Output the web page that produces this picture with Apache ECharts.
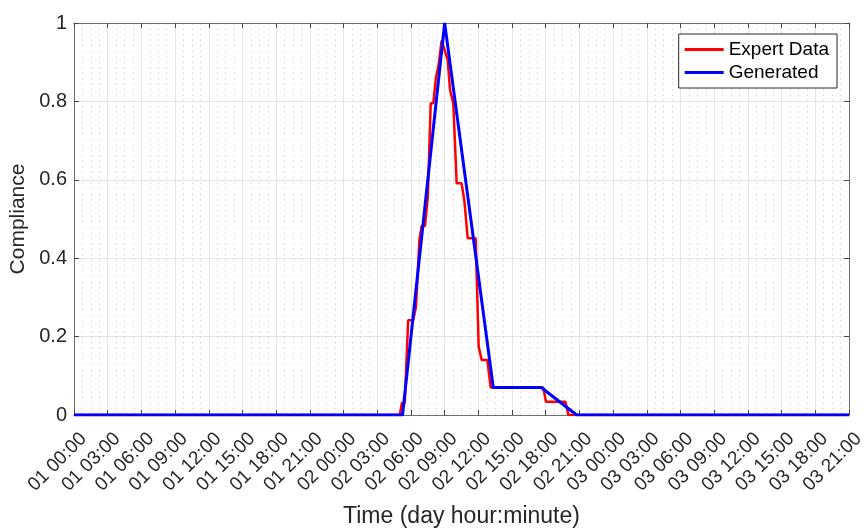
<!DOCTYPE html>
<html>
<head>
<meta charset="utf-8">
<script src="https://cdn.jsdelivr.net/npm/echarts@6/dist/echarts.min.js"></script>
<style>
  html, body { margin: 0; padding: 0; background: #fff; }
  #main { width: 865px; height: 529px; }
</style>
</head>
<body>
<div id="main"></div>
<script>
// hours since 01 00:00
var tickLabels = ['01 00:00','01 03:00','01 06:00','01 09:00','01 12:00','01 15:00','01 18:00','01 21:00',
  '02 00:00','02 03:00','02 06:00','02 09:00','02 12:00','02 15:00','02 18:00','02 21:00',
  '03 00:00','03 03:00','03 06:00','03 09:00','03 12:00','03 15:00','03 18:00','03 21:00'];

var expertTime  = [0, 29.0, 29.2, 29.45, 29.75, 30.2, 30.45, 30.75, 30.95, 31.25, 31.5, 31.76, 31.99, 32.23, 32.44, 32.73, 32.85,
  33.27, 33.48, 33.77, 34.07, 34.51, 34.75, 35.05, 35.76, 36.03, 36.3, 36.8, 37.1, 41.78, 42.02, 43.75, 44.02, 69];
var expertValue = [0, 0, 0.031, 0.031, 0.242, 0.242, 0.276, 0.446, 0.482, 0.482, 0.557, 0.795, 0.795, 0.863, 0.888, 0.955, 0.958,
  0.906, 0.829, 0.795, 0.591, 0.591, 0.548, 0.451, 0.451, 0.174, 0.14, 0.14, 0.07, 0.07, 0.034, 0.034, 0, 0];

var generatedTime  = [0, 29.25, 33.0, 37.33, 41.6, 44.75, 69];
var generatedValue = [0, 0, 1.0, 0.07, 0.07, 0, 0];

function pairs(t, v) {
  var out = [];
  for (var i = 0; i < t.length; i++) out.push([t[i], v[i]]);
  return out;
}

var font = 'Liberation Sans';
var axisCol = '#6e6e6e';
var textCol = '#262626';
var chart = echarts.init(document.getElementById('main'));
chart.setOption({
  animation: false,
  textStyle: { fontFamily: font },
  grid: { left: 74, right: 16, top: 23, bottom: 114, outerBoundsMode: 'none', containLabel: false },
  legend: {
    orient: 'vertical',
    right: 28,
    top: 34,
    backgroundColor: '#fff',
    borderColor: '#262626',
    borderWidth: 1,
    borderRadius: 0,
    padding: [6, 8, 6, 6],
    itemGap: 4,
    itemWidth: 39,
    itemHeight: 14,
    textStyle: { fontFamily: font, fontSize: 19, color: '#000' },
    data: [
      { name: 'Expert Data', icon: 'path://M0,0 L40,0 L40,3 L0,3 Z' },
      { name: 'Generated', icon: 'path://M0,0 L40,0 L40,3 L0,3 Z' }
    ]
  },
  xAxis: [{
    type: 'value',
    min: 0,
    max: 69,
    interval: 3,
    name: 'Time (day hour:minute)',
    nameLocation: 'middle',
    nameGap: 90,
    nameTextStyle: { fontSize: 23, color: textCol, fontFamily: font },
    axisLine: { show: true, onZero: false, lineStyle: { color: axisCol, width: 1 } },
    axisTick: { show: true, inside: true, length: 5, lineStyle: { color: '#444' } },
    axisLabel: {
      rotate: 45,
      fontSize: 19,
      color: textCol,
      margin: 0,
      verticalAlign: 'top',
      padding: [12, 8, 0, 0],
      formatter: function (v) { return tickLabels[Math.round(v / 3)]; }
    },
    splitLine: { show: true, lineStyle: { color: '#e4e4e4', width: 1 } },
    minorTick: { show: false, splitNumber: 4 },
    minorSplitLine: { show: true, lineStyle: { color: '#d6d6d6', width: 1, type: [1.5, 4] } }
  }, {
    type: 'value',
    position: 'top',
    min: 0,
    max: 69,
    interval: 3,
    axisLine: { show: true, onZero: false, lineStyle: { color: axisCol, width: 1 } },
    axisTick: { show: true, inside: true, length: 5, lineStyle: { color: '#444' } },
    axisLabel: { show: false },
    splitLine: { show: false }
  }],
  yAxis: [{
    type: 'value',
    min: 0,
    max: 1,
    interval: 0.2,
    name: 'Compliance',
    nameLocation: 'middle',
    nameGap: 44,
    nameTextStyle: { fontSize: 21, color: textCol, fontFamily: font },
    axisLine: { show: true, onZero: false, lineStyle: { color: axisCol, width: 1 } },
    axisTick: { show: true, inside: true, length: 5, lineStyle: { color: '#444' } },
    axisLabel: {
      fontSize: 20,
      color: textCol,
      margin: 7,
      formatter: function (v) { return String(Math.round(v * 10) / 10); }
    },
    splitLine: { show: true, lineStyle: { color: '#e4e4e4', width: 1 } }
  }, {
    type: 'value',
    position: 'right',
    min: 0,
    max: 1,
    interval: 0.2,
    axisLine: { show: true, onZero: false, lineStyle: { color: axisCol, width: 1 } },
    axisTick: { show: true, inside: true, length: 5, lineStyle: { color: '#444' } },
    axisLabel: { show: false },
    splitLine: { show: false }
  }],
  series: [{
    name: 'Expert Data',
    type: 'line',
    xAxisIndex: 0,
    yAxisIndex: 0,
    showSymbol: false,
    color: '#ff0000',
    lineStyle: { color: '#ff0000', width: 2.5 },
    data: pairs(expertTime, expertValue)
  }, {
    name: 'Generated',
    type: 'line',
    xAxisIndex: 0,
    yAxisIndex: 0,
    showSymbol: false,
    color: '#0000ff',
    lineStyle: { color: '#0000ff', width: 3 },
    data: pairs(generatedTime, generatedValue)
  }]
});
</script>
</body>
</html>
